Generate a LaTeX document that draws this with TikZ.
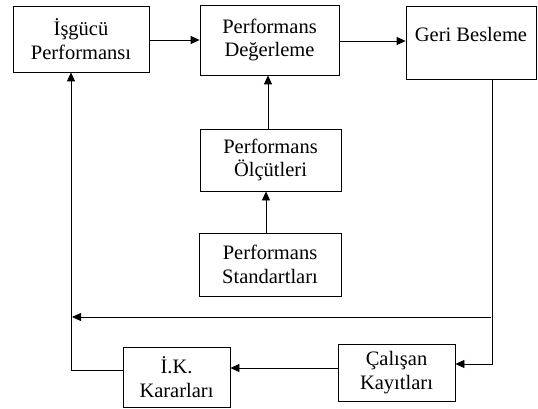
\documentclass[tikz,border=0pt]{standalone}
\usepackage{fontspec}
\setmainfont{Liberation Serif}
\usetikzlibrary{arrows.meta}
\begin{document}
\begin{tikzpicture}[x=1pt,y=-1pt,
  box/.style={draw,line width=0.8pt,align=center,inner sep=0pt,
    font=\fontsize{20.5}{23.5}\selectfont},
  conn/.style={line width=0.8pt},
  arr/.style={conn,-{Triangle[length=9pt,width=8pt]}}]
\useasboundingbox (0,0) rectangle (538,409);
% process boxes
\node[box,minimum width=136pt,minimum height=66pt] (b1) at (81,39) {İşgücü\\Performansı};
\node[box,minimum width=139pt,minimum height=70pt] (b2) at (269.5,40) {Performans\\Değerleme};
\node[box,minimum width=130pt,minimum height=73pt,text height=14pt,text depth=15pt] (b3) at (471,42.5) {Geri Besleme};
\node[box,minimum width=141pt,minimum height=62pt] (b4) at (270.5,160) {Performans\\Ölçütleri};
\node[box,minimum width=142pt,minimum height=63pt] (b5) at (270,264.5) {Performans\\Standartları};
\node[box,minimum width=107pt,minimum height=60pt] (b6) at (176.5,377) {İ.K.\\Kararları};
\node[box,minimum width=117pt,minimum height=57pt] (b7) at (396.5,372.5) {Çalışan\\Kayıtları};
% routing points
\coordinate (rc) at (492,364);
\coordinate (fb) at (491,317);
\coordinate (fa) at (72,317);
\coordinate (lc) at (71,370);
\coordinate (ky) at (0,368);
% connectors
\draw[arr] (b1.east |- b2.west) -- (b2.west);
\draw[arr] (b2.east |- 0,41) -- (b3.west |- 0,41);
\draw[arr] (b4.north -| 268,0) -- (b2.south -| 268,0);
\draw[arr] (b5.north -| 266,0) -- (b4.south -| 266,0);
\draw[arr] (b3.south -| rc) -- (rc) -- (rc -| b7.east);
\draw[arr] (b7.west |- ky) -- (ky -| b6.east);
\draw[arr] (fb) -- (fa);
\draw[arr] (lc -| b6.west) -- (lc) -- (lc |- b1.south);
\end{tikzpicture}
\end{document}
